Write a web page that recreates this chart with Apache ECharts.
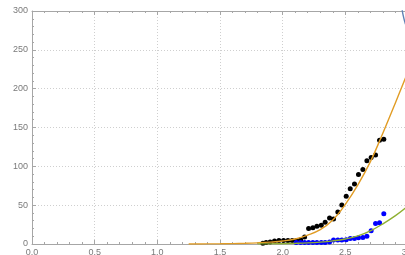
<!DOCTYPE html>
<html>
<head>
<meta charset="utf-8">
<script src="https://cdn.jsdelivr.net/npm/echarts@6/dist/echarts.min.js"></script>
<style>html,body{margin:0;padding:0;background:#fff}#c{width:405px;height:255px}</style>
</head>
<body>
<div id="c"></div>
<script>
// Black data points
const blackX = [1.842,1.868,1.900,1.935,1.970,2.007,2.042,2.076,2.108,2.143,2.175,2.207,2.241,2.273,2.308,2.339,2.374,2.406,2.440,2.472,2.507,2.539,2.573,2.605,2.640,2.672,2.706,2.741,2.773,2.807];
const blackY = [1.0,1.8,2.6,3.9,4.6,4.6,4.6,4.6,4.6,5.5,9.0,20.1,21.0,22.7,24.0,28.0,33.4,32.3,41.1,50.1,61.5,71.0,77.3,89.5,95.8,107.1,111.4,114.6,133.5,134.8];
// Blue data points
const blueX = [2.108,2.143,2.175,2.207,2.241,2.273,2.308,2.339,2.374,2.406,2.440,2.472,2.507,2.539,2.573,2.605,2.640,2.672,2.706,2.741,2.773,2.807];
const blueY = [2.0,2.0,2.0,2.0,2.0,2.0,2.0,2.0,2.5,5.0,5.0,5.0,5.5,7.0,7.0,8.0,8.5,10.0,17.0,26.5,27.5,39.0];
// Fitted curves
const fitOrangeX = [1.25,1.3,1.4,1.5,1.6,1.7,1.8,1.9,2.0,2.1,2.2,2.3,2.4,2.5,2.6,2.7,2.8,2.9,3.0];
const fitOrangeY = [0.02,0.05,0.1,0.25,0.5,0.9,1.5,2.4,3.8,6.5,11.5,18.5,31,51,76,106,143,182,222];
const fitGreenX = [1.8,1.9,2.0,2.1,2.2,2.3,2.4,2.5,2.6,2.7,2.8,2.9,3.0];
const fitGreenY = [0.1,0.2,0.4,0.8,1.4,2.4,4.0,6.5,10.5,17,26,36.5,49];
const fitBlueX = [2.946,2.954,2.962,2.971,2.98];
const fitBlueY = [318,301,294,288,283];

const zip = (a, b) => a.map((v, i) => [v, b[i]]);
const gray = '#a6a6a6';
const lab = '#7a7a7a';
const font = 'Liberation Sans, Arial, sans-serif';

const chart = echarts.init(document.getElementById('c'), null, {renderer: 'canvas'});
chart.setOption({
  animation: false,
  backgroundColor: '#fff',
  grid: {left: 32, top: 11, width: 376, height: 233, containLabel: false, outerBoundsMode: 'none'},
  xAxis: [{
    type: 'value', min: 0, max: 3, interval: 0.5,
    axisLine: {show: true, onZero: false, lineStyle: {color: gray, width: 1}},
    axisTick: {show: true, inside: true, length: 4, lineStyle: {color: gray}},
    minorTick: {show: true, splitNumber: 5, length: 2, lineStyle: {color: gray}},
    axisLabel: {color: lab, fontSize: 9, fontFamily: font, margin: 4, formatter: v => v.toFixed(1)},
    splitLine: {show: true, lineStyle: {color: '#cfcfcf', type: [1, 2], width: 1}}
  }, {
    type: 'value', min: 0, max: 3, interval: 0.5, position: 'top',
    axisLine: {show: true, onZero: false, lineStyle: {color: gray, width: 1}},
    axisTick: {show: true, inside: true, length: 4, lineStyle: {color: gray}},
    minorTick: {show: true, splitNumber: 5, length: 2, lineStyle: {color: gray}},
    axisLabel: {show: false},
    splitLine: {show: false}
  }],
  yAxis: {
    type: 'value', min: 0, max: 300, interval: 50,
    axisLine: {show: true, onZero: false, lineStyle: {color: gray, width: 1}},
    axisTick: {show: true, inside: true, length: 4, lineStyle: {color: gray}},
    minorTick: {show: true, splitNumber: 5, length: 2, lineStyle: {color: gray}},
    axisLabel: {color: lab, fontSize: 9, fontFamily: font, margin: 4},
    splitLine: {show: true, lineStyle: {color: '#cfcfcf', type: [1, 2], width: 1}}
  },
  series: [
    {type: 'line', data: zip(fitOrangeX, fitOrangeY), smooth: 0.4, showSymbol: false, clip: true,
     lineStyle: {color: '#E19C24', width: 1.4}},
    {type: 'line', data: zip(fitGreenX, fitGreenY), smooth: 0.4, showSymbol: false, clip: true,
     lineStyle: {color: '#8FB032', width: 1.4}},
    {type: 'line', data: zip(fitBlueX, fitBlueY), smooth: 0.3, showSymbol: false, clip: true,
     lineStyle: {color: '#5E81B5', width: 1.4}},
    {type: 'scatter', data: zip(blackX, blackY), symbolSize: 5, itemStyle: {color: '#000', opacity: 1}},
    {type: 'scatter', data: zip(blueX, blueY), symbolSize: 5, itemStyle: {color: '#0000ff', opacity: 1}}
  ]
});
</script>
</body>
</html>
